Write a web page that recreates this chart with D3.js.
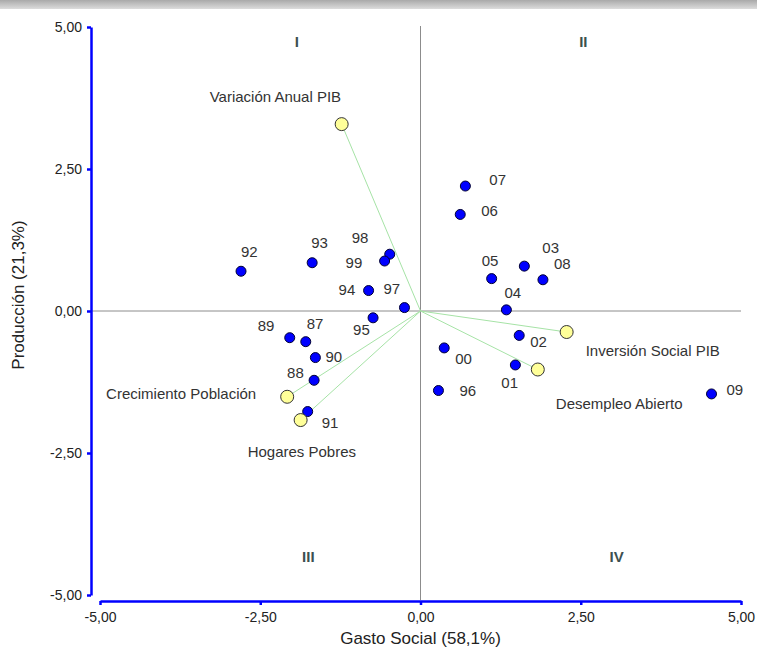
<!DOCTYPE html>
<html>
<head>
<meta charset="utf-8">
<script src="https://cdn.jsdelivr.net/npm/d3@7"></script>
<style>
  body { margin: 0; background: #ffffff; }
  svg { display: block; }
  text { font-family: "Liberation Sans", Arial, sans-serif; }
</style>
</head>
<body>
<div id="biplot"></div>
<script>
//
// Biplot: Gasto Social vs Produccion (years and variables)
//

// years (observations)
var yearLabels = ["92","93","98","99","94","97","95","89","87","90","88","91",
                  "07","06","05","03","08","04","02","00","01","96","09"];
var yearX = [-2.80,-1.69,-0.48,-0.56,-0.81,-0.25,-0.74,-2.04,-1.79,-1.64,-1.66,-1.76,
              0.70, 0.62, 1.11, 1.62, 1.91, 1.34, 1.54, 0.37, 1.48, 0.28, 4.54];
var yearY = [ 0.70, 0.85, 1.00, 0.88, 0.36, 0.06,-0.12,-0.47,-0.54,-0.82,-1.22,-1.77,
              2.20, 1.70, 0.57, 0.79, 0.55, 0.02,-0.43,-0.65,-0.95,-1.40,-1.46];

// variables (vectors)
var varNames = ["Variación Anual PIB","Inversión Social PIB","Desempleo Abierto",
                "Crecimiento Población","Hogares Pobres"];
var varX = [-1.23, 2.28, 1.83,-2.08,-1.87];
var varY = [ 3.29,-0.37,-1.03,-1.51,-1.92];

// axes
var tickValues = [-5, -2.5, 0, 2.5, 5];
var xTitle = "Gasto Social (58,1%)";
var yTitle = "Producción (21,3%)";
var quadrantNames = ["I","II","III","IV"];

//
// layout (label offsets in pixels, quadrant label spots in data units)
//
var yearLabelOffset = {
  "92":[0,-14],"93":[-1,-15],"98":[-38,-11],"99":[-39,7],"94":[-30,4],"97":[-21,-14],
  "95":[-20,17],"89":[-32,-7],"87":[1,-13],"90":[10,4],"88":[-27,-2],"91":[14,16],
  "07":[24,-1],"06":[21,2],"05":[-10,-13],"03":[18,-13],"08":[11,-11],"04":[-2,-12],
  "02":[11,12],"00":[11,16],"01":[-14,23],"96":[21,5],"09":[15,1]
};
var varLabelOffset = [[-132,-22,"start"],[19,24,"start"],[18,39,"start"],[-31,2,"end"],[-53,37,"start"]];
var quadrantSpot = [[-1.93,4.65],[2.54,4.65],[-1.75,-4.42],[3.06,-4.42]];

var W = 757, H = 653;

var x = d3.scaleLinear().domain([-5, 5]).range([100, 741]);
var y = d3.scaleLinear().domain([-5, 5]).range([595, 27]);

// comma decimals and a plain hyphen for negatives
var fmt = function(d) { return d3.format(".2f")(d).replace(".", ",").replace("\u2212", "-"); };

var svg = d3.select("#biplot").append("svg")
  .attr("width", W)
  .attr("height", H);

// grey window strip on top
var grad = svg.append("defs").append("linearGradient")
  .attr("id", "topbar").attr("x1", 0).attr("y1", 0).attr("x2", 0).attr("y2", 1);
grad.append("stop").attr("offset", "0%").attr("stop-color", "#a9a9a9");
grad.append("stop").attr("offset", "100%").attr("stop-color", "#dcdcdc");
svg.append("rect").attr("x", 0).attr("y", 0).attr("width", W).attr("height", 9)
  .style("fill", "url(#topbar)");

//
// reference lines through the origin
//
svg.append("line")
  .attr("x1", 91).attr("x2", x(5))
  .attr("y1", y(0)).attr("y2", y(0))
  .style("stroke", "#8c8c8c").style("stroke-width", 1);
svg.append("line")
  .attr("x1", x(0)).attr("x2", x(0))
  .attr("y1", y(5) - 1).attr("y2", 600)
  .style("stroke", "#8c8c8c").style("stroke-width", 1);

//
// axes
//
var xAxis = d3.axisBottom(x).tickValues(tickValues).tickFormat(fmt)
  .tickSizeInner(4).tickSizeOuter(0).tickPadding(7);
var yAxis = d3.axisLeft(y).tickValues(tickValues).tickFormat(fmt)
  .tickSizeInner(4).tickSizeOuter(0).tickPadding(5);

var axisX = svg.append("g")
  .attr("transform", "translate(0,601)")
  .call(xAxis);
var axisY = svg.append("g")
  .attr("transform", "translate(91,0)")
  .call(yAxis);

[axisX, axisY].forEach(function(a) {
  a.select(".domain").style("stroke", "#0000ff").style("stroke-width", 2.5);
  a.selectAll(".tick line").style("stroke", "#0000ff").style("stroke-width", 2.5);
  a.selectAll(".tick text")
    .style("font-size", "14px")
    .style("fill", "#222");
});

svg.append("text")
  .attr("x", x(0))
  .attr("y", 644)
  .attr("text-anchor", "middle")
  .style("font-size", "17px")
  .style("fill", "#222")
  .text(xTitle);

svg.append("text")
  .attr("transform", "translate(24,295) rotate(-90)")
  .attr("text-anchor", "middle")
  .style("font-size", "17px")
  .style("fill", "#222")
  .text(yTitle);

//
// quadrant names
//
svg.selectAll(".quad")
  .data(quadrantNames)
  .enter().append("text")
  .attr("class", "quad")
  .attr("x", function(d, i) { return x(quadrantSpot[i][0]); })
  .attr("y", function(d, i) { return y(quadrantSpot[i][1]); })
  .attr("text-anchor", "middle")
  .style("font-size", "15px")
  .style("font-weight", "bold")
  .style("fill", "#3c5050")
  .text(function(d) { return d; });

//
// variable vectors
//
svg.selectAll(".vec")
  .data(varNames)
  .enter().append("line")
  .attr("class", "vec")
  .attr("x1", x(0)).attr("y1", y(0))
  .attr("x2", function(d, i) { return x(varX[i]); })
  .attr("y2", function(d, i) { return y(varY[i]); })
  .style("stroke", "#a6e3a6")
  .style("stroke-width", 1);

//
// year points
//
svg.selectAll(".yr")
  .data(yearLabels)
  .enter().append("circle")
  .attr("class", "yr")
  .attr("cx", function(d, i) { return x(yearX[i]); })
  .attr("cy", function(d, i) { return y(yearY[i]); })
  .attr("r", 5)
  .style("fill", "#0000ff")
  .style("stroke", "#000033")
  .style("stroke-width", 1);

svg.selectAll(".yrlab")
  .data(yearLabels)
  .enter().append("text")
  .attr("class", "yrlab")
  .attr("x", function(d, i) { return x(yearX[i]) + yearLabelOffset[d][0]; })
  .attr("y", function(d, i) { return y(yearY[i]) + yearLabelOffset[d][1]; })
  .style("font-size", "15px")
  .style("fill", "#333")
  .text(function(d) { return d; });

//
// variable points
//
svg.selectAll(".vr")
  .data(varNames)
  .enter().append("circle")
  .attr("class", "vr")
  .attr("cx", function(d, i) { return x(varX[i]); })
  .attr("cy", function(d, i) { return y(varY[i]); })
  .attr("r", 6.5)
  .style("fill", "#ffff99")
  .style("stroke", "#333")
  .style("stroke-width", 1);

svg.selectAll(".vrlab")
  .data(varNames)
  .enter().append("text")
  .attr("class", "vrlab")
  .attr("x", function(d, i) { return x(varX[i]) + varLabelOffset[i][0]; })
  .attr("y", function(d, i) { return y(varY[i]) + varLabelOffset[i][1]; })
  .attr("text-anchor", function(d, i) { return varLabelOffset[i][2]; })
  .style("font-size", "15px")
  .style("fill", "#333")
  .text(function(d) { return d; });
</script>
</body>
</html>
